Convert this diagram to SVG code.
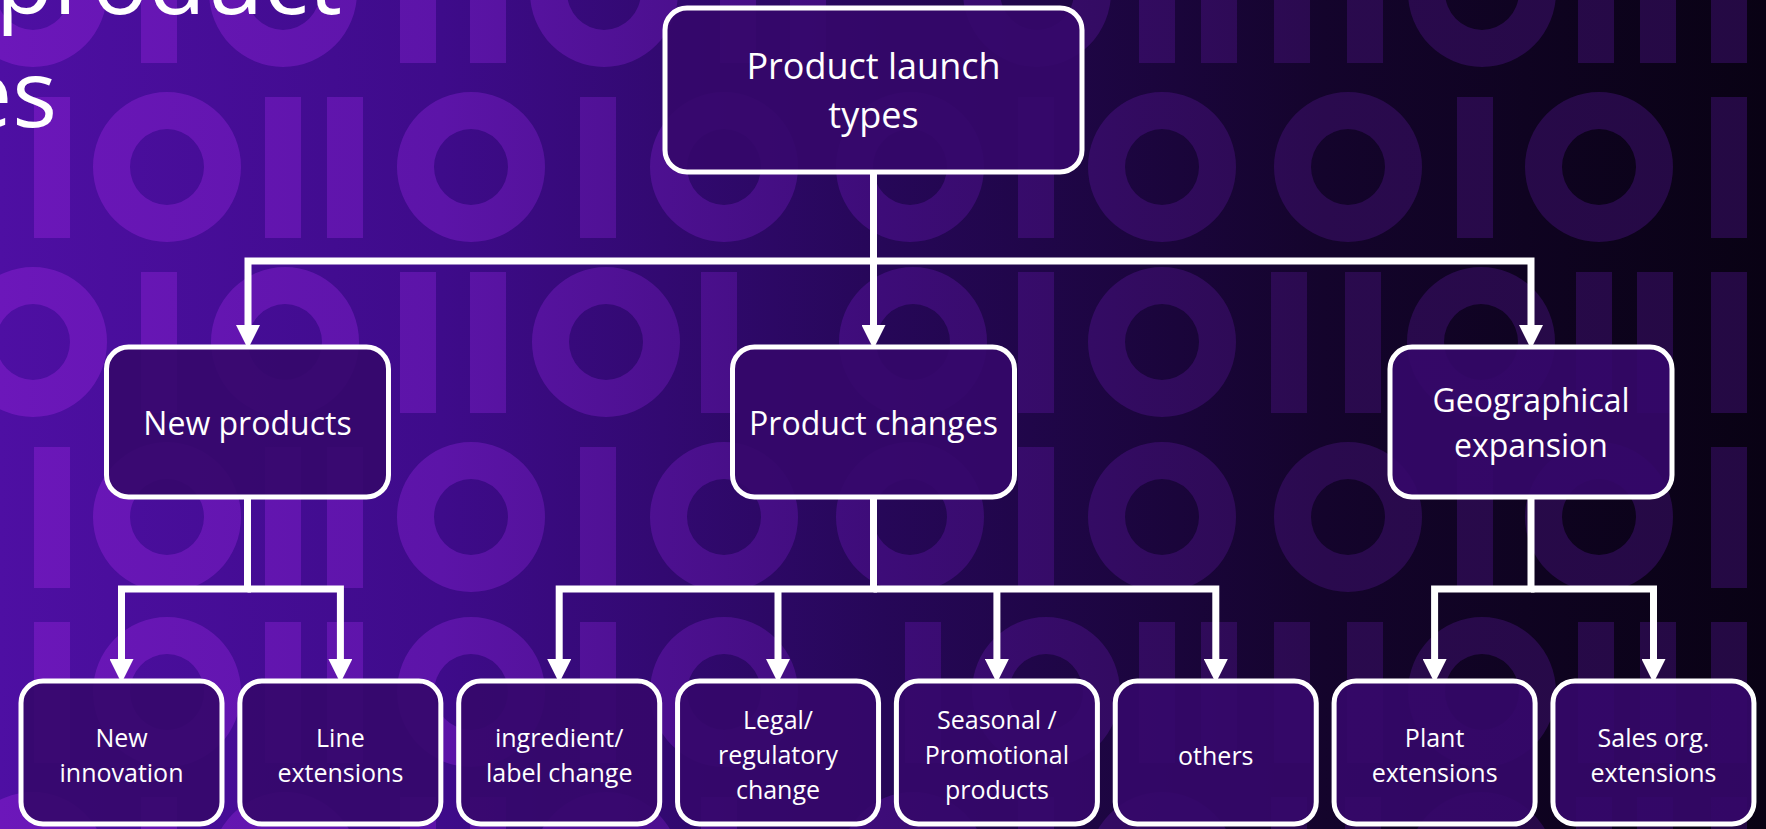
<svg xmlns="http://www.w3.org/2000/svg" xmlns:xlink="http://www.w3.org/1999/xlink" width="1766" height="829" viewBox="0 0 1766 829">
<defs>
<linearGradient id="bg" x1="0" y1="0" x2="1766" y2="0" gradientUnits="userSpaceOnUse">
<stop offset="0" stop-color="#4e0fa3"/>
<stop offset="0.25" stop-color="#3e0b8a"/>
<stop offset="0.5" stop-color="#260758"/>
<stop offset="0.75" stop-color="#14042c"/>
<stop offset="1" stop-color="#090214"/>
</linearGradient>
<linearGradient id="dg" x1="0" y1="0" x2="1766" y2="0" gradientUnits="userSpaceOnUse">
<stop offset="0" stop-color="#6c17ba"/>
<stop offset="0.25" stop-color="#5c14a8"/>
<stop offset="0.5" stop-color="#3d0c78"/>
<stop offset="0.75" stop-color="#2a0a4e"/>
<stop offset="1" stop-color="#240943"/>
</linearGradient>
<path id="ring" fill-rule="evenodd" d="M-74,0 a74,75 0 1,0 148,0 a74,75 0 1,0 -148,0 Z M-37,0 a37,38 0 1,0 74,0 a37,38 0 1,0 -74,0 Z"/>
<rect id="bar" x="0" y="0" width="36" height="141"/>
<mask id="dm" maskUnits="userSpaceOnUse" x="0" y="0" width="1766" height="829">
<g fill="#ffffff">
<!-- row A -->
<use xlink:href="#ring" x="33" y="-8"/><use xlink:href="#bar" x="141" y="-78"/><use xlink:href="#ring" x="283" y="-8"/><use xlink:href="#bar" x="400" y="-78"/><use xlink:href="#bar" x="470" y="-78"/><use xlink:href="#ring" x="604" y="-8"/><use xlink:href="#bar" x="720" y="-78"/><use xlink:href="#bar" x="790" y="-78"/><use xlink:href="#ring" x="1037" y="-8"/><use xlink:href="#bar" x="1139" y="-78"/><use xlink:href="#bar" x="1201" y="-78"/><use xlink:href="#bar" x="1274" y="-78"/><use xlink:href="#bar" x="1347" y="-78"/><use xlink:href="#ring" x="1482" y="-8"/><use xlink:href="#bar" x="1578" y="-78"/><use xlink:href="#bar" x="1640" y="-78"/><use xlink:href="#bar" x="1711" y="-78"/>
<!-- row B -->
<use xlink:href="#bar" x="34" y="97"/><use xlink:href="#ring" x="167" y="167"/><use xlink:href="#bar" x="265" y="97"/><use xlink:href="#bar" x="327" y="97"/><use xlink:href="#ring" x="471" y="167"/><use xlink:href="#bar" x="580" y="97"/><use xlink:href="#ring" x="724" y="167"/><use xlink:href="#ring" x="910" y="167"/><use xlink:href="#bar" x="1018" y="97"/><use xlink:href="#ring" x="1162" y="167"/><use xlink:href="#ring" x="1348" y="167"/><use xlink:href="#bar" x="1457" y="97"/><use xlink:href="#ring" x="1599" y="167"/><use xlink:href="#bar" x="1711" y="97"/>
<!-- row C -->
<use xlink:href="#ring" x="33" y="342"/><use xlink:href="#bar" x="141" y="272"/><use xlink:href="#ring" x="285" y="342"/><use xlink:href="#bar" x="400" y="272"/><use xlink:href="#bar" x="470" y="272"/><use xlink:href="#ring" x="606" y="342"/><use xlink:href="#bar" x="701" y="272"/><use xlink:href="#ring" x="913" y="342"/><use xlink:href="#bar" x="1018" y="272"/><use xlink:href="#ring" x="1162" y="342"/><use xlink:href="#bar" x="1271" y="272"/><use xlink:href="#bar" x="1345" y="272"/><use xlink:href="#ring" x="1481" y="342"/><use xlink:href="#bar" x="1576" y="272"/><use xlink:href="#bar" x="1637" y="272"/><use xlink:href="#bar" x="1711" y="272"/>
<!-- row D -->
<use xlink:href="#bar" x="34" y="447"/><use xlink:href="#ring" x="167" y="517"/><use xlink:href="#bar" x="265" y="447"/><use xlink:href="#bar" x="327" y="447"/><use xlink:href="#ring" x="471" y="517"/><use xlink:href="#bar" x="580" y="447"/><use xlink:href="#ring" x="724" y="517"/><use xlink:href="#ring" x="910" y="517"/><use xlink:href="#bar" x="1018" y="447"/><use xlink:href="#ring" x="1162" y="517"/><use xlink:href="#ring" x="1348" y="517"/><use xlink:href="#bar" x="1457" y="447"/><use xlink:href="#ring" x="1599" y="517"/><use xlink:href="#bar" x="1711" y="447"/>
<!-- row E -->
<use xlink:href="#bar" x="34" y="622"/><use xlink:href="#ring" x="167" y="692"/><use xlink:href="#bar" x="265" y="622"/><use xlink:href="#bar" x="327" y="622"/><use xlink:href="#ring" x="471" y="692"/><use xlink:href="#bar" x="580" y="622"/><use xlink:href="#ring" x="724" y="692"/><use xlink:href="#bar" x="905" y="622"/><use xlink:href="#ring" x="1046" y="692"/><use xlink:href="#bar" x="1139" y="622"/><use xlink:href="#bar" x="1201" y="622"/><use xlink:href="#bar" x="1274" y="622"/><use xlink:href="#bar" x="1347" y="622"/><use xlink:href="#ring" x="1482" y="692"/><use xlink:href="#bar" x="1578" y="622"/><use xlink:href="#bar" x="1640" y="622"/><use xlink:href="#bar" x="1711" y="622"/>
<!-- row F -->
<use xlink:href="#ring" x="33" y="867"/><use xlink:href="#bar" x="141" y="797"/><use xlink:href="#ring" x="285" y="867"/><use xlink:href="#bar" x="400" y="797"/><use xlink:href="#bar" x="470" y="797"/><use xlink:href="#ring" x="606" y="867"/><use xlink:href="#bar" x="701" y="797"/><use xlink:href="#ring" x="913" y="867"/><use xlink:href="#bar" x="1018" y="797"/><use xlink:href="#ring" x="1162" y="867"/><use xlink:href="#bar" x="1271" y="797"/><use xlink:href="#bar" x="1345" y="797"/><use xlink:href="#ring" x="1481" y="867"/><use xlink:href="#bar" x="1576" y="797"/><use xlink:href="#bar" x="1637" y="797"/><use xlink:href="#bar" x="1711" y="797"/>
</g>
</mask>
<marker id="ah" markerUnits="userSpaceOnUse" markerWidth="24" markerHeight="24" refX="0" refY="11.5" orient="auto" viewBox="0 0 23 23">
<path d="M0,0 L23,11.5 L0,23 Z" fill="#ffffff"/>
</marker>
</defs>
<style>
.box{fill:#35086a;fill-opacity:0.9;stroke:#ffffff;stroke-width:5}
.t{font-family:"Open Sans","Liberation Sans",sans-serif;fill:#ffffff;text-anchor:middle}
.t36{font-size:36px}
.t32{font-size:32px}
.t25{font-size:25px}
.title{font-family:"Open Sans","Liberation Sans",sans-serif;fill:#ffffff;font-size:94px;text-anchor:end}
.conn{fill:none;stroke:#ffffff;stroke-width:7;stroke-linejoin:miter}
</style>
<rect x="0" y="0" width="1766" height="829" fill="url(#bg)"/>
<rect id="digits" x="0" y="0" width="1766" height="829" fill="url(#dg)" mask="url(#dm)"/>
<g id="title">
<text class="title" x="342" y="14">product</text>
<text class="title" x="57" y="127">es</text>
</g>
<g id="connectors" class="conn">
<path d="M873.5,172 V261 H248 V325" marker-end="url(#ah)"/>
<path d="M873.5,261 H1531 V325" marker-end="url(#ah)"/>
<path d="M873.5,261 V325" marker-end="url(#ah)"/>
<path d="M247.5,497 V589 H121.5 V659" marker-end="url(#ah)"/>
<path d="M247.5,589 H340.4 V659" marker-end="url(#ah)"/>
<path d="M873.5,497 V589 H559.2 V659" marker-end="url(#ah)"/>
<path d="M873.5,589 H1215.8 V659" marker-end="url(#ah)"/>
<path d="M778,589 V659" marker-end="url(#ah)"/>
<path d="M996.9,589 V659" marker-end="url(#ah)"/>
<path d="M1531,497 V589 H1434.6 V659" marker-end="url(#ah)"/>
<path d="M1531,589 H1653.5 V659" marker-end="url(#ah)"/>
</g>
<g id="root">
<rect class="box" x="665" y="8" width="417" height="164" rx="22"/>
<text class="t t36" x="873.5" y="79">Product launch</text>
<text class="t t36" x="873.5" y="128">types</text>
</g>
<g id="new-products">
<rect class="box" x="106.5" y="347" width="282" height="150" rx="22"/>
<text class="t t32" x="247.5" y="435">New products</text>
</g>
<g id="product-changes">
<rect class="box" x="732.5" y="347" width="282" height="150" rx="22"/>
<text class="t t32" x="873.5" y="435">Product changes</text>
</g>
<g id="geographical-expansion">
<rect class="box" x="1390" y="347" width="282" height="150" rx="22"/>
<text class="t t32" x="1531" y="412">Geographical</text>
<text class="t t32" x="1531" y="457">expansion</text>
</g>
<g id="new-innovation">
<rect class="box" x="21" y="681" width="201" height="143" rx="22"/>
<text class="t t25" x="121.5" y="747">New</text>
<text class="t t25" x="121.5" y="782">innovation</text>
</g>
<g id="line-extensions">
<rect class="box" x="239.85" y="681" width="201" height="143" rx="22"/>
<text class="t t25" x="340.4" y="747">Line</text>
<text class="t t25" x="340.4" y="782">extensions</text>
</g>
<g id="ingredient-label-change">
<rect class="box" x="458.7" y="681" width="201" height="143" rx="22"/>
<text class="t t25" x="559.2" y="747">ingredient/</text>
<text class="t t25" x="559.2" y="782">label change</text>
</g>
<g id="legal-regulatory-change">
<rect class="box" x="677.55" y="681" width="201" height="143" rx="22"/>
<text class="t t25" x="778" y="729">Legal/</text>
<text class="t t25" x="778" y="764">regulatory</text>
<text class="t t25" x="778" y="799">change</text>
</g>
<g id="seasonal-promotional-products">
<rect class="box" x="896.4" y="681" width="201" height="143" rx="22"/>
<text class="t t25" x="996.9" y="729">Seasonal /</text>
<text class="t t25" x="996.9" y="764">Promotional</text>
<text class="t t25" x="996.9" y="799">products</text>
</g>
<g id="others">
<rect class="box" x="1115.25" y="681" width="201" height="143" rx="22"/>
<text class="t t25" x="1215.8" y="765">others</text>
</g>
<g id="plant-extensions">
<rect class="box" x="1334.1" y="681" width="201" height="143" rx="22"/>
<text class="t t25" x="1434.6" y="747">Plant</text>
<text class="t t25" x="1434.6" y="782">extensions</text>
</g>
<g id="sales-org-extensions">
<rect class="box" x="1552.95" y="681" width="201" height="143" rx="22"/>
<text class="t t25" x="1653.5" y="747">Sales org.</text>
<text class="t t25" x="1653.5" y="782">extensions</text>
</g>
</svg>
